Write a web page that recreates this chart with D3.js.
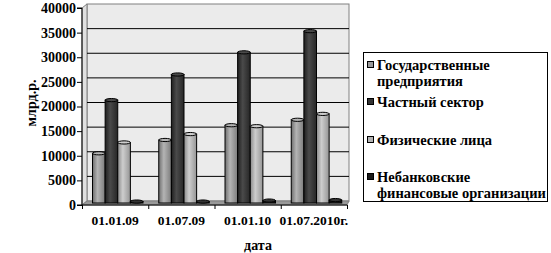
<!DOCTYPE html>
<html><head><meta charset="utf-8">
<script src="https://cdn.jsdelivr.net/npm/d3@7"></script>
<style>body{margin:0;background:#fff}</style>
</head><body>
<svg id="c" width="551" height="253"></svg>
<script>
const categories = ["01.01.09","01.07.09","01.01.10","01.07.2010г."];
const seriesNames = ["Государственные предприятия","Частный сектор","Физические лица","Небанковские финансовые организации"];
const gov = [10500, 13200, 16200, 17300];
const priv = [21300, 26500, 31000, 35300];
const phys = [12700, 14400, 16000, 18500];
const nonbank = [700, 700, 900, 1000];
const yTicks = [0,5000,10000,15000,20000,25000,30000,35000,40000];
const legendLines = [["Государственные","предприятия"],["Частный сектор"],["Физические лица"],["Небанковские","финансовые организации"]];

const seriesValues = [gov, priv, phys, nonbank];
const colors = [["#6e6e6e","#b4b4b4","#7c7c7c"],["#1f1f1f","#4a4a4a","#262626"],["#8a8a8a","#cdcdcd","#959595"],["#0d0d0d","#333333","#111111"]];
const legendColors = ["#999999","#333333","#b3b3b3","#1a1a1a"];
const FONT = "font-family:'Liberation Serif';font-weight:700";

const svg = d3.select("#c");
const x0 = d3.scaleBand().domain(categories).range([82,347]);
const x1 = d3.scaleBand().domain(d3.range(4)).range([10.5,61]);
const y = d3.scaleLinear().domain([0,40000]).range([205,8]);
const dx = 5, dy = 4;

const defs = svg.append("defs");
colors.forEach((c,i)=>{
  const g = defs.append("linearGradient").attr("id","g"+i).attr("x1","0").attr("x2","1").attr("y1","0").attr("y2","0");
  g.append("stop").attr("offset","0").attr("stop-color",c[0]);
  g.append("stop").attr("offset","0.4").attr("stop-color",c[1]);
  g.append("stop").attr("offset","1").attr("stop-color",c[2]);
});

// back wall
svg.append("rect").attr("x",82+dx).attr("y",y(40000)-dy).attr("width",349-82-dx).attr("height",y(0)-y(40000)).attr("fill","#ebebeb").attr("stroke","#808080");
// left wall
svg.append("polygon").attr("points",[[82,y(0)],[82,y(40000)],[82+dx,y(40000)-dy],[82+dx,y(0)-dy]].join(" ")).attr("fill","#e0e0e0").attr("stroke","#808080");
// gridlines
svg.append("g").selectAll("line").data(yTicks.filter(d=>d>0&&d<40000)).join("line")
  .attr("x1",82+dx).attr("x2",349).attr("y1",d=>y(d)-dy).attr("y2",d=>y(d)-dy).attr("stroke","#000");
// floor
svg.append("polygon").attr("points",[[82,y(0)],[82+dx,y(0)-dy],[349,y(0)-dy],[347,y(0)]].join(" ")).attr("fill","#999999").attr("stroke","#808080");

// bars
const gBars = svg.append("g");
categories.forEach((cat,ci)=>{
  seriesValues.forEach((vals,si)=>{
    const v = vals[ci];
    const bx = x0(cat)+x1(si), bw = x1.bandwidth();
    const top = y(v), bottom = y(0)-2;
    gBars.append("rect").attr("x",bx).attr("y",top).attr("width",bw).attr("height",Math.max(0,bottom-top))
      .attr("fill","url(#g"+si+")").attr("stroke","#000").attr("stroke-width",1);
    gBars.append("ellipse").attr("cx",bx+bw/2).attr("cy",top).attr("rx",bw/2).attr("ry",1.6)
      .attr("fill",colors[si][1]).attr("stroke","#000").attr("stroke-width",1);
  });
});

// axes
const yAxis = d3.axisLeft(y).tickValues(yTicks).tickSize(5).tickFormat(d3.format("d"));
const ya = svg.append("g").attr("transform","translate(82,0)").call(yAxis);
const xAxis = d3.axisBottom(d3.scalePoint().domain(d3.range(5)).range([82,347])).tickSize(4).tickFormat("");
const xa = svg.append("g").attr("transform","translate(0,205)").call(xAxis);
[ya,xa].forEach(a=>{a.attr("font-family",null).attr("font-size",null);a.select(".domain").attr("stroke","#000");a.selectAll("line").attr("stroke","#000");});
xa.select(".domain").attr("d","M82,0H347");
ya.select(".domain").attr("d","M-5,8H0V205H-5");
ya.selectAll("text").attr("style",FONT+";font-size:14px").attr("fill","#000").attr("x",-6);

svg.append("g").selectAll("text").data(categories).join("text")
  .attr("x",d=>x0(d)+x0.bandwidth()/2).attr("y",225).attr("text-anchor","middle").attr("style",FONT+";font-size:13.5px").text(d=>d);

svg.append("text").attr("x",258).attr("y",250).attr("text-anchor","middle").attr("style",FONT+";font-size:14px").text("дата");
svg.append("text").attr("transform","translate(36,103) rotate(-90)").attr("text-anchor","middle").attr("style",FONT+";font-size:14px").text("млрд.р.");

// legend
const lg = svg.append("g");
lg.append("rect").attr("x",363.5).attr("y",52.5).attr("width",184).attr("height",149).attr("fill","#fff").attr("stroke","#000");
const itemY = [70, 107, 145, 182];
legendLines.forEach((lines,i)=>{
  lg.append("rect").attr("x",367.5).attr("y",itemY[i]-8.5).attr("width",6).attr("height",6).attr("fill",legendColors[i]).attr("stroke","#000");
  lines.forEach((t,j)=>{
    lg.append("text").attr("x",377).attr("y",itemY[i]+j*15.5).attr("style",FONT+";font-size:14.5px").text(t);
  });
});
</script>
</body></html>
